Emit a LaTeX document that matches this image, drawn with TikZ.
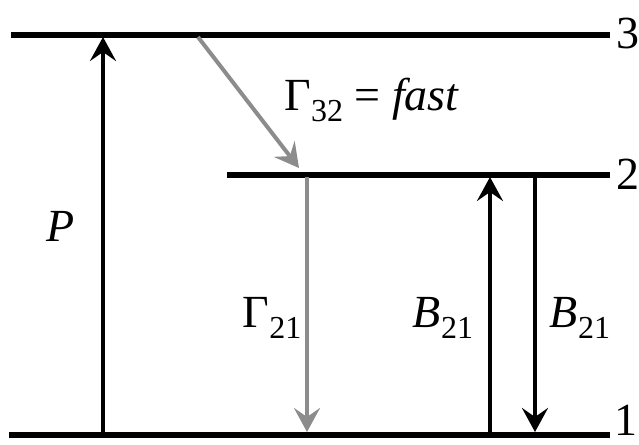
\documentclass[tikz,border=0pt]{standalone}
\usepackage{fontspec}
\setmainfont{Liberation Serif}
\usetikzlibrary{arrows.meta}
\newcommand{\lvsub}[1]{\raisebox{-0.5ex}{\fontsize{16}{16}\selectfont #1}}
\begin{document}
\begin{tikzpicture}[x=0.5pt,y=-0.5pt, every node/.style={font=\fontsize{23}{26}\selectfont,inner sep=0pt}, level/.style={line width=2.6pt}, pump/.style={line width=2pt,-{Stealth[length=12pt,width=13pt,inset=4.5pt]}}, decay/.style={pump,draw=black!45}, lbl/.style={anchor=center}]
\useasboundingbox (0,0) rectangle (639,445);
% levels
\coordinate (l3a) at (11,35); \coordinate (l3b) at (610,35);
\coordinate (l2a) at (227,175); \coordinate (l2b) at (610,175);
\coordinate (l1a) at (9,435); \coordinate (l1b) at (610,435);
\draw[level] (l3a) -- (l3b);
\draw[level] (l2a) -- (l2b);
\draw[level] (l1a) -- (l1b);
\node[lbl] (n3) at (628,33) {3};
\node[lbl] (n2) at (628,174) {2};
\node[lbl] (n1) at (626,420) {1};
% transitions
\coordinate (pbot) at (103,434); \coordinate (ptop) at (103,37);
\coordinate (g32a) at (198,37); \coordinate (g32b) at (299,168);
\coordinate (g21a) at (307,177); \coordinate (g21b) at (307,432);
\coordinate (bupa) at (490,434); \coordinate (bupb) at (490,177);
\coordinate (bdna) at (535,177); \coordinate (bdnb) at (535,432);
\draw[pump] (pbot) -- (ptop);
\draw[decay] (g32a) -- (g32b);
\draw[decay] (g21a) -- (g21b);
\draw[pump] (bupa) -- (bupb);
\draw[pump] (bdna) -- (bdnb);
\node[lbl] (lp) at (61,226) {\textit{P}};
\node[lbl] (l32) at (372,100) {Γ\lvsub{32} = \textit{fast}};
\node[lbl] (l21) at (272,318) {Γ\lvsub{21}};
\node[lbl] (lbu) at (443,318) {\textit{B}\lvsub{21}};
\node[lbl] (lbd) at (580,318) {\textit{B}\lvsub{21}};
\end{tikzpicture}
\end{document}
